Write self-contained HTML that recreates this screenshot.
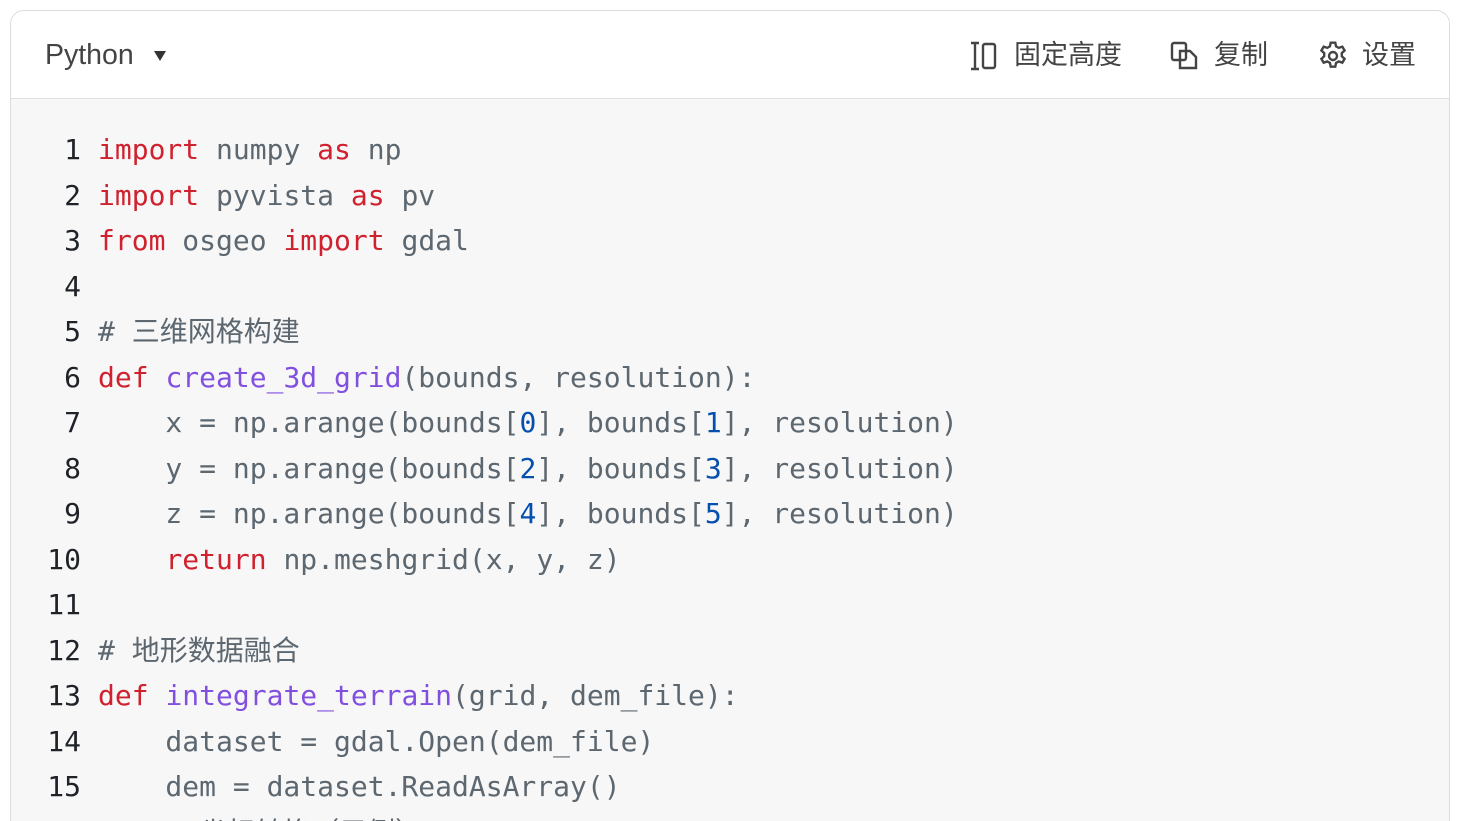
<!DOCTYPE html>
<html style="width:1460px;height:821px;overflow:hidden"><head><meta charset="utf-8"><style>
*{margin:0;padding:0;box-sizing:border-box}
body{width:1460px;height:821px;overflow:hidden;background:#fff;position:relative;font-family:"Liberation Sans","Noto Sans CJK SC",sans-serif}
.box{position:absolute;left:10px;top:10px;width:1440px;height:830px;border:1px solid #dcdcdc;border-radius:14px;overflow:hidden;background:#f7f7f8}
.hdr{position:absolute;left:0;top:0;width:100%;height:88px;background:#fff;border-bottom:1px solid #e1e1e1}
.t{position:absolute;top:28px;font-size:27px;color:#444;line-height:32px;white-space:nowrap}
.code{position:absolute;left:0;top:116px;font-family:"DejaVu Sans Mono","Noto Sans CJK SC",monospace;font-size:28px;line-height:45.5px;white-space:pre;color:#5c6770}
.ln{display:inline-block;width:70px;text-align:right;color:#1f2328;margin-right:17px}
.k{color:#cf222e}.f{color:#8250df}.n{color:#0550ae}
</style></head><body>
<div class="box">
<div class="hdr">
<div class="t" style="left:34px;font-size:28.5px">Python</div>
<div style="position:absolute;left:143px;top:40px;width:0;height:0;border-left:6px solid transparent;border-right:6px solid transparent;border-top:10px solid #333"></div>
<svg style="position:absolute;left:958px;top:30px" width="30" height="30" viewBox="0 0 30 30" fill="none" stroke="#444" stroke-width="2.4"><path d="M2 2h8M2 28h8M6 2v26"/><rect x="14" y="3" width="12" height="24" rx="2"/></svg>
<div class="t" style="left:1003px">固定高度</div>
<svg style="position:absolute;left:1159px;top:30px" width="30" height="30" viewBox="0 0 30 30" fill="none" stroke="#444" stroke-width="2.4"><rect x="2" y="2" width="14" height="17" rx="2"/><path d="M10 10h10l6 6v11H10z"/></svg>
<div class="t" style="left:1203px">复制</div>
<svg style="position:absolute;left:1306px;top:29px" width="32" height="32" viewBox="0 0 24 24" fill="none" stroke="#444" stroke-width="1.8"><circle cx="12" cy="12" r="3"/><path d="M10.3 2h3.4l.6 2.8 2 1.1 2.7-.9 1.700 2.9-2.1 1.9v2.4l2.1 1.9-1.7 2.9-2.7-.9-2 1.1-.6 2.8h-3.4l-.6-2.8-2-1.1-2.7.9-1.7-2.9 2.1-1.9v-2.4L3.3 7.9 5 5l2.7.9 2-1.1z"/></svg>
<div class="t" style="left:1351px">设置</div>
</div>
<div class="code"><span class="ln">1</span><span class="k">import</span> numpy <span class="k">as</span> np
<span class="ln">2</span><span class="k">import</span> pyvista <span class="k">as</span> pv
<span class="ln">3</span><span class="k">from</span> osgeo <span class="k">import</span> gdal
<span class="ln">4</span>
<span class="ln">5</span># 三维网格构建
<span class="ln">6</span><span class="k">def</span> <span class="f">create_3d_grid</span>(bounds, resolution):
<span class="ln">7</span>    x = np.arange(bounds[<span class="n">0</span>], bounds[<span class="n">1</span>], resolution)
<span class="ln">8</span>    y = np.arange(bounds[<span class="n">2</span>], bounds[<span class="n">3</span>], resolution)
<span class="ln">9</span>    z = np.arange(bounds[<span class="n">4</span>], bounds[<span class="n">5</span>], resolution)
<span class="ln">10</span>    <span class="k">return</span> np.meshgrid(x, y, z)
<span class="ln">11</span>
<span class="ln">12</span># 地形数据融合
<span class="ln">13</span><span class="k">def</span> <span class="f">integrate_terrain</span>(grid, dem_file):
<span class="ln">14</span>    dataset = gdal.Open(dem_file)
<span class="ln">15</span>    dem = dataset.ReadAsArray()
<span class="ln">16</span>    # 坐标转换（示例）</div>
</div>
</body></html>
